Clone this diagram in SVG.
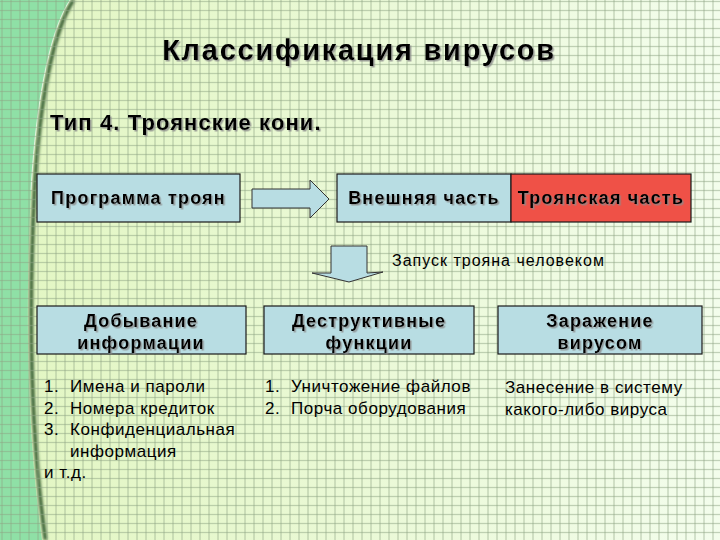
<svg xmlns="http://www.w3.org/2000/svg" width="720" height="540" viewBox="0 0 720 540">
<defs>
  <linearGradient id="bg" x1="0" y1="0" x2="1" y2="0">
    <stop offset="0" stop-color="#e2f6c2"/>
    <stop offset="0.5" stop-color="#eaf9d6"/>
    <stop offset="1" stop-color="#f3fdec"/>
  </linearGradient>
  <pattern id="grid" patternUnits="userSpaceOnUse" x="0" y="0" width="9" height="9">
    <line x1="2" y1="0" x2="2" y2="9" stroke="#8ea484" stroke-opacity="0.5" stroke-width="1.3"/>
    <line x1="0" y1="1.5" x2="9" y2="1.5" stroke="#8ea484" stroke-opacity="0.5" stroke-width="1.3"/>
  </pattern>
  <filter id="blur" x="-20%" y="-5%" width="140%" height="110%">
    <feGaussianBlur stdDeviation="1.4"/>
  </filter>
  <filter id="tshadow" x="-5%" y="-20%" width="110%" height="150%">
    <feDropShadow dx="1.5" dy="1.5" stdDeviation="0.6" flood-color="#8a8a8a" flood-opacity="0.8"/>
  </filter>
  <style>
    .t { font-family: "Liberation Sans", Arial, sans-serif; fill: #000; }
    .b { font-weight: bold; }
    .box { fill: #b8dde3; stroke: #1a1a1a; stroke-width: 1.2; }
    .red { fill: #ef5147; stroke: #1a1a1a; stroke-width: 1.2; }
    .arrow { fill: #b8dde3; stroke: #333; stroke-width: 1; }
    .hd { font-size: 18px; font-weight: bold; letter-spacing: 1.2px; text-anchor: middle; filter: url(#tshadow); }
    .li { font-size: 17px; letter-spacing: 0.55px; }
  </style>
</defs>

<!-- background -->
<rect x="0" y="0" width="720" height="540" fill="url(#bg)"/>
<path d="M72,0 C52,30 38,100 33,190 C28,290 27,420 44,540" fill="none" stroke="#2a5226" stroke-width="3.5" filter="url(#blur)" transform="translate(1.5,0)"/>
<path d="M0,0 L70,0 C50,30 36,100 31,190 C26,290 25,420 42,540 L0,540 Z" fill="#8fe0a6"/>
<path d="M70,0 C50,30 36,100 31,190" fill="none" stroke="#ffffff" stroke-opacity="0.6" stroke-width="1"/>
<rect x="0" y="0" width="720" height="540" fill="url(#grid)"/>

<g id="title">
  <text class="t b" x="359" y="60" font-size="29" text-anchor="middle" letter-spacing="1.75" filter="url(#tshadow)">Классификация вирусов</text>
</g>
<g id="subtitle">
  <text class="t b" x="50" y="130" font-size="22" letter-spacing="1.1" filter="url(#tshadow)">Тип 4. Троянские кони.</text>
</g>

<g id="box-program">
  <rect class="box" x="37" y="174" width="203" height="48"/>
  <text class="t hd" x="138.5" y="204">Программа троян</text>
</g>

<g id="connectors">
  <path class="arrow" d="M252,189 L310,189 L310,180 L329,199 L310,218 L310,208 L252,208 Z"/>
  <path class="arrow" d="M331,246 L367,246 L367,273 L383,272 L349,282 L312,273 L331,273 Z"/>
</g>

<g id="box-external">
  <rect class="box" x="337" y="174" width="174" height="48"/>
  <text class="t hd" x="424" y="204">Внешняя часть</text>
</g>
<g id="box-trojan">
  <rect class="red" x="511" y="174" width="180" height="48"/>
  <text class="t hd" x="601" y="204">Троянская часть</text>
</g>

<g id="label-launch">
  <text class="t" x="392" y="266" font-size="16" letter-spacing="1">Запуск трояна человеком</text>
</g>

<g id="box-info">
  <rect class="box" x="37" y="306" width="209" height="48"/>
  <text class="t hd" x="141" y="327">Добывание</text>
  <text class="t hd" x="141" y="349">информации</text>
</g>
<g id="box-destr">
  <rect class="box" x="264" y="306" width="210" height="48"/>
  <text class="t hd" x="369" y="327">Деструктивные</text>
  <text class="t hd" x="369" y="349">функции</text>
</g>
<g id="box-infect">
  <rect class="box" x="498" y="306" width="204" height="48"/>
  <text class="t hd" x="600" y="327">Заражение</text>
  <text class="t hd" x="600" y="349">вирусом</text>
</g>

<g id="list-info">
  <text class="t li" x="44" y="392">1.</text>
  <text class="t li" x="70" y="392">Имена и пароли</text>
  <text class="t li" x="44" y="413.5">2.</text>
  <text class="t li" x="70" y="413.5">Номера кредиток</text>
  <text class="t li" x="44" y="435">3.</text>
  <text class="t li" x="70" y="435">Конфиденциальная</text>
  <text class="t li" x="70" y="456.5">информация</text>
  <text class="t li" x="44" y="478">и т.д.</text>
</g>
<g id="list-destr">
  <text class="t li" x="265" y="392">1.</text>
  <text class="t li" x="291" y="392">Уничтожение файлов</text>
  <text class="t li" x="265" y="413.5">2.</text>
  <text class="t li" x="291" y="413.5">Порча оборудования</text>
</g>
<g id="text-infect">
  <text class="t li" x="505" y="393">Занесение в систему</text>
  <text class="t li" x="505" y="414.5">какого-либо вируса</text>
</g>
</svg>
